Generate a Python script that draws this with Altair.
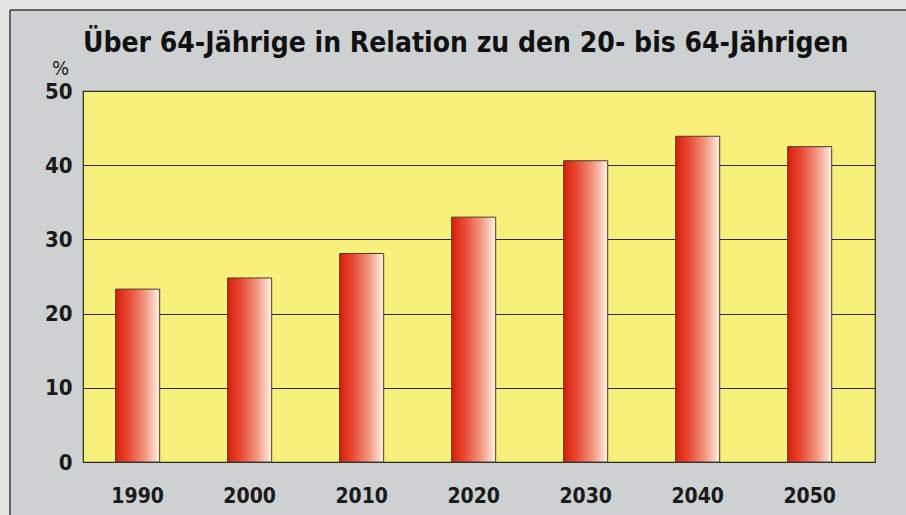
import altair as alt
import pandas as pd

years = ["1990", "2000", "2010", "2020", "2030", "2040", "2050"]
values = [23.3, 24.8, 28.1, 33.0, 40.6, 43.9, 42.5]
y_ticks = [0, 10, 20, 30, 40, 50]

title_text = "Über 64-Jährige in Relation zu den 20- bis 64-Jährigen"
FONT = "DejaVu Sans Condensed, Liberation Sans Narrow, Arial Narrow, sans-serif"

df = pd.DataFrame({"Jahr": years, "Wert": values})

grad = alt.Gradient(
    gradient="linear",
    x1=0, x2=1, y1=0, y2=0,
    stops=[
        alt.GradientStop(offset=0, color="#dc1c0c"),
        alt.GradientStop(offset=0.3, color="#e84a34"),
        alt.GradientStop(offset=0.7, color="#f2a08a"),
        alt.GradientStop(offset=1, color="#fcf0ea"),
    ],
)

bars = alt.Chart(df).mark_bar(fill=grad, stroke="#4a3a2a", strokeWidth=1).encode(
    x=alt.X("Jahr:N",
            scale=alt.Scale(paddingInner=0.607, paddingOuter=0.339, align=0.43),
            axis=alt.Axis(title=None, labelAngle=0, labelFont=FONT, labelFontSize=21,
                          labelFontWeight="bold", labelColor="#1a1a1a", labelPadding=23,
                          ticks=False, domain=False)),
    y=alt.Y("Wert:Q",
            scale=alt.Scale(domain=[0, 50], nice=False),
            axis=alt.Axis(values=y_ticks, title="%", titleAngle=0, titleFont=FONT,
                          titleFontSize=20, titleFontWeight="normal", titleColor="#1a1a1a",
                          titleX=-23, titleY=-17, titleAlign="center", titleBaseline="alphabetic",
                          labelFont=FONT, labelFontSize=22, labelFontWeight="bold",
                          labelColor="#1a1a1a", labelPadding=11, ticks=False, domain=False,
                          grid=True, gridColor="#2a2a1a", gridWidth=1, gridOpacity=1)),
)

frame_data = alt.Data(values=[{}])
outer_left = alt.Chart(frame_data).mark_rect(color="#e3e5e3").encode(
    x=alt.value(-83), x2=alt.value(-73), y=alt.value(-91), y2=alt.value(424))
outer_top = alt.Chart(frame_data).mark_rect(color="#e3e5e3").encode(
    x=alt.value(-83), x2=alt.value(823), y=alt.value(-91), y2=alt.value(-81))
frame_left = alt.Chart(frame_data).mark_rule(color="#3a3a3a", strokeWidth=1.5).encode(
    x=alt.value(-73), y=alt.value(-81), y2=alt.value(424))
frame_top = alt.Chart(frame_data).mark_rule(color="#3a3a3a", strokeWidth=1.5).encode(
    x=alt.value(-73), x2=alt.value(823), y=alt.value(-81))
title = alt.Chart(frame_data).mark_text(
    align="left", baseline="alphabetic", font=FONT, fontSize=28, fontWeight="bold",
    color="#111111").encode(
    x=alt.value(0), y=alt.value(-39), text=alt.value(title_text))

chart = alt.layer(outer_left, outer_top, frame_left, frame_top, title, bars).properties(
    width=792,
    height=371,
    background="#cdd1d1",
    padding={"left": 83, "top": 91, "right": 31, "bottom": 53},
    autosize=alt.AutoSizeParams(type="none"),
).configure_view(fill="#f7f17c", stroke="#2a2a1a", strokeWidth=1.2)

chart.save("out.html", embed_options={"renderer": "svg", "actions": False})
